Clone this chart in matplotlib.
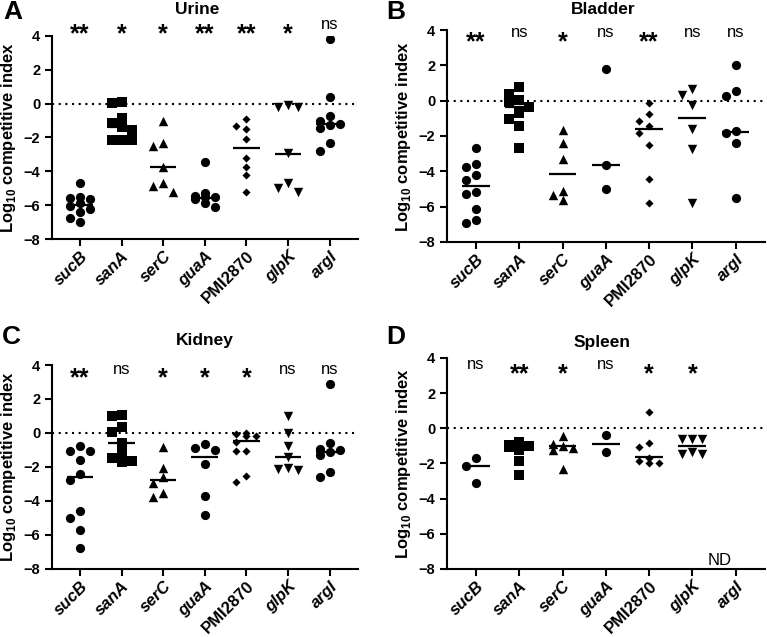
import numpy as np
import matplotlib.pyplot as plt

plt.rcParams['font.family'] = ['Liberation Sans', 'DejaVu Sans']

genes = ['sucB', 'sanA', 'serC', 'guaA', 'PMI2870', 'glpK', 'argI']

# log10 competitive index
urine_vals = [
    [-4.67, -5.5, -5.55, -5.66, -5.85, -6.05, -6.2, -6.38, -6.78, -7.0],
    [0.05, 0.1, -0.85, -1.15, -1.4, -1.55, -2.15, -2.15, -2.15],
    [-1.05, -2.35, -2.5, -3.75, -4.7, -4.85, -5.2],
    [-3.45, -5.3, -5.45, -5.53, -5.53, -5.65, -5.85, -6.1],
    [-0.93, -1.32, -1.52, -2.07, -3.19, -3.72, -4.24, -5.24],
    [-0.08, -0.22, -0.22, -2.94, -4.71, -5.0, -5.2],
    [3.8, 0.4, -0.75, -1.0, -1.2, -1.25, -1.45, -2.3, -2.8],
]
bladder_vals = [
    [-2.7, -3.58, -3.74, -4.21, -4.49, -5.15, -5.28, -6.15, -6.76, -6.94],
    [0.8, 0.4, 0.05, -0.1, -0.35, -0.7, -1.05, -1.45, -2.7],
    [-1.66, -2.38, -3.32, -5.09, -5.34, -5.62],
    [1.77, -3.64, -5.02],
    [-0.15, -0.75, -1.13, -1.43, -1.85, -2.51, -4.45, -5.77],
    [0.64, 0.32, -0.25, -1.62, -2.75, -5.77],
    [2.02, 0.57, 0.26, -1.7, -1.81, -2.38, -5.49],
]
kidney_vals = [
    [-0.75, -1.04, -1.04, -1.59, -2.41, -2.76, -4.59, -5.02, -5.71, -6.79],
    [1.06, 1.0, 0.33, 0.08, -0.57, -1.2, -1.49, -1.63, -1.69],
    [-0.8, -2.08, -2.61, -2.96, -3.51, -3.75],
    [-0.65, -0.9, -1.0, -1.82, -3.71, -4.82],
    [0.02, -0.06, -0.18, -0.18, -0.51, -1.04, -1.04, -2.53, -2.86],
    [1.0, -0.02, -0.76, -1.39, -2.08, -2.14, -2.18],
    [2.86, -0.6, -0.95, -1.0, -1.1, -1.3, -2.3, -2.6],
]
spleen_vals = [
    [-1.71, -2.16, -3.11],
    [-0.75, -0.95, -1.0, -1.0, -1.05, -1.25, -1.85, -2.65],
    [-0.45, -0.9, -1.0, -1.1, -1.25, -2.3],
    [-0.38, -1.37],
    [0.91, -0.85, -1.05, -1.7, -1.85, -1.95, -2.0],
    [-0.6, -0.6, -0.6, -1.35, -1.45, -1.45],
    [],
]

urine_lines = [-6.0, -1.4, -3.72, -5.6, -2.64, -2.95, -1.2]
bladder_lines = [-4.81, -0.38, -4.17, -3.64, -1.62, -0.96, -1.76]
kidney_lines = [-2.57, -0.6, -2.76, -1.39, -0.49, -1.39, -1.1]
spleen_lines = [-2.16, -1.0, -1.03, -0.89, -1.61, -0.99, None]

urine_sig = ['**', '*', '*', '**', '**', '*', 'ns']
bladder_sig = ['**', 'ns', '*', 'ns', '**', 'ns', 'ns']
kidney_sig = ['**', 'ns', '*', '*', '*', 'ns', 'ns']
spleen_sig = ['ns', '**', '*', 'ns', '*', '*', '']

markers = ['o', 's', '^', 'o', 'D', 'v', 'o']
msizes = [44, 46, 46, 44, 17, 46, 44]


def swarm_offsets(vals, px_x, px_y, step=10.0, min_dist=8.5):
    # compact swarm: at most three columns, like the original figure
    vals = np.asarray(vals, dtype=float)
    order = np.argsort(-vals, kind='stable')
    placed = []
    offs = np.zeros(len(vals))
    for i in order:
        y = vals[i] * px_y
        best, best_d = 0.0, -1.0
        for c in (0, -1, 1):
            x = c * step
            d = min([np.hypot(x - a, y - b) for a, b in placed] or [1e9])
            if d >= min_dist:
                best = x
                break
            if d > best_d:
                best, best_d = x, d
        placed.append((best, y))
        offs[i] = best / px_x
    return offs


def draw_panel(ax, data, lines, sig, sig_y, title, title_xy, letter, letter_xy):
    xlim = (-0.67, 6.68)
    ax.set_xlim(*xlim)
    ax.set_ylim(-8, 4)
    fig = ax.figure
    bb = ax.get_position()
    W, H = fig.get_size_inches() * fig.dpi
    px_x = bb.width * W / (xlim[1] - xlim[0])
    px_y = bb.height * H / 12.0

    ax.axhline(0, color='black', ls=(0, (1, 2.2)), lw=1.5, zorder=1)

    for i, vals in enumerate(data):
        if len(vals) == 0:
            continue
        offs = swarm_offsets(vals, px_x, px_y)
        ax.scatter(i + offs, vals, marker=markers[i], s=msizes[i],
                   color='black', linewidths=0, zorder=3)
        if lines[i] is not None:
            ax.plot([i - 0.32, i + 0.32], [lines[i], lines[i]],
                    color='black', lw=1.6, zorder=2, solid_capstyle='butt')

    for i, s in enumerate(sig):
        if s == 'ns':
            ax.text(i, sig_y + 0.15, s, ha='center', va='center',
                    fontsize=12, clip_on=False)
        elif s:
            ax.text(i, sig_y - 0.4, s, ha='center', va='center',
                    fontsize=18, fontweight='bold', clip_on=False)

    for side in ['top', 'right']:
        ax.spines[side].set_visible(False)
    for side in ['left', 'bottom']:
        ax.spines[side].set_linewidth(1.5)
    ax.set_yticks(np.arange(-8, 5, 2))
    ax.set_xticks(range(len(genes)))
    ax.set_xticklabels(genes, rotation=45, ha='right', rotation_mode='anchor',
                       fontsize=12, fontweight='bold')
    for lab in ax.get_xticklabels():
        if lab.get_text() != 'PMI2870':
            lab.set_fontstyle('italic')
    ax.tick_params(axis='both', width=1.5, length=5)
    ax.tick_params(axis='x', pad=2)
    ax.tick_params(axis='y', labelsize=10.5)
    for lab in ax.get_yticklabels():
        lab.set_fontweight('bold')
    ax.set_ylabel('Log$_{\\mathregular{10}}$ competitive index', fontsize=12,
                  fontweight='bold', labelpad=4)
    fig.text(title_xy[0] / W, 1 - title_xy[1] / H, title, fontsize=12.5,
             fontweight='bold', ha='center', va='center')
    fig.text(letter_xy[0] / W, 1 - letter_xy[1] / H, letter, fontsize=19,
             fontweight='bold', ha='left', va='top')


fig = plt.figure(figsize=(7.67, 6.37), dpi=100)
axA = fig.add_axes([0.0678, 0.6248, 0.399, 0.3187])
axB = fig.add_axes([0.5828, 0.6201, 0.4146, 0.3328])
axC = fig.add_axes([0.0678, 0.1068, 0.399, 0.3202])
axD = fig.add_axes([0.5828, 0.1068, 0.4146, 0.3312])

draw_panel(axA, urine_vals, urine_lines, urine_sig, 4.5, 'Urine', (197, 9), 'A', (3, 0))
draw_panel(axB, bladder_vals, bladder_lines, bladder_sig, 3.7, 'Bladder', (603, 10), 'B', (386, 0))
draw_panel(axC, kidney_vals, kidney_lines, kidney_sig, 3.6, 'Kidney', (205, 341), 'C', (2, 325))
draw_panel(axD, spleen_vals, spleen_lines, spleen_sig, 3.5, 'Spleen', (602, 342), 'D', (386, 325))
axD.text(5.62, -7.5, 'ND', ha='center', va='center', fontsize=12)

fig.savefig('out.png', dpi=100)
